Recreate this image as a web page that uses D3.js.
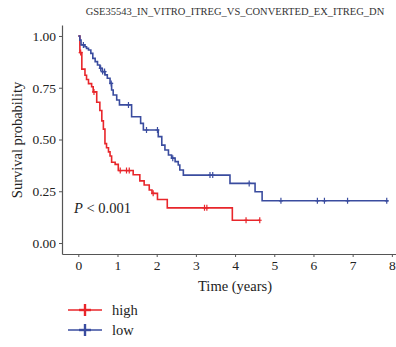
<!DOCTYPE html>
<html>
<head>
<meta charset="utf-8">
<script src="https://cdn.jsdelivr.net/npm/d3@7"></script>
<style>
  body { margin: 0; background: #fff; }
  svg text { font-family: "Liberation Serif", "DejaVu Serif", serif; }
</style>
</head>
<body>
<div id="chart"></div>
<script>
var TITLE = "GSE35543_IN_VITRO_ITREG_VS_CONVERTED_EX_ITREG_DN";
var xTicks = [0, 1, 2, 3, 4, 5, 6, 7, 8];
var yTicks = [0, 0.25, 0.5, 0.75, 1];

// high group: step times and survival after each drop
var highTime = [0, 0.04, 0.09, 0.17, 0.21, 0.26, 0.34, 0.38, 0.47, 0.55, 0.60, 0.64, 0.68, 0.72, 0.77, 0.81, 0.85, 0.94, 1.02, 1.40, 1.57, 1.68, 1.81, 1.88, 2.02, 2.27, 3.93, 4.64];
var highSurv = [1.0, 0.92, 0.84, 0.81, 0.79, 0.77, 0.755, 0.73, 0.68, 0.64, 0.59, 0.55, 0.48, 0.46, 0.44, 0.42, 0.39, 0.38, 0.35, 0.33, 0.30, 0.28, 0.256, 0.24, 0.21, 0.17, 0.11, 0.11];
var highCensor = [0.06, 0.40, 1.07, 1.23, 1.30, 1.91, 3.22, 3.28, 4.28, 4.63];

// low group
var lowTime = [0, 0.04, 0.07, 0.17, 0.21, 0.26, 0.32, 0.37, 0.43, 0.49, 0.55, 0.61, 0.68, 0.74, 0.81, 0.85, 0.89, 0.98, 1.05, 1.36, 1.59, 1.66, 2.04, 2.13, 2.21, 2.30, 2.38, 2.47, 2.55, 2.59, 2.68, 3.87, 4.51, 4.69, 7.91];
var lowSurv = [1.0, 0.98, 0.957, 0.948, 0.94, 0.932, 0.916, 0.892, 0.876, 0.86, 0.844, 0.828, 0.812, 0.796, 0.771, 0.739, 0.715, 0.691, 0.667, 0.61, 0.578, 0.546, 0.514, 0.473, 0.449, 0.425, 0.41, 0.393, 0.377, 0.353, 0.328, 0.288, 0.248, 0.204, 0.204];
var lowCensor = [0.13, 0.57, 0.62, 0.67, 0.84, 1.28, 1.74, 2.02, 2.41, 3.36, 3.43, 4.36, 5.17, 6.10, 6.28, 6.87, 7.87];

var groups = ["high", "low"];
var colors = ["#e8262b", "#3a4c9f"];

var width = 396, height = 347;

var svg = d3.select("#chart").append("svg")
    .attr("width", width)
    .attr("height", height);

// scales span the whole panel incl. padding
var x = d3.scaleLinear().domain([-0.416, 8.106]).range([62, 396]);
var y = d3.scaleLinear().domain([-0.053, 1.053]).range([254, 25]);

svg.append("text")
    .attr("x", 235)
    .attr("y", 15)
    .attr("text-anchor", "middle")
    .style("font-size", "10.5px")
    .style("fill", "#333")
    .text(TITLE);

// axes
var xAxis = svg.append("g")
    .attr("transform", "translate(0,254)")
    .call(d3.axisBottom(x).tickValues(xTicks).tickSizeInner(3).tickSizeOuter(0).tickPadding(3));
var yAxis = svg.append("g")
    .attr("transform", "translate(62,0)")
    .call(d3.axisLeft(y).tickValues(yTicks).tickFormat(d3.format(".2f")).tickSizeInner(3).tickSizeOuter(0).tickPadding(3));

[xAxis, yAxis].forEach(function(ax) {
    ax.select(".domain").attr("stroke", "#555").attr("stroke-width", 1.2);
    ax.selectAll(".tick line").attr("stroke", "#555");
    ax.selectAll(".tick text")
        .style("font-size", "13.5px")
        .style("font-family", "Liberation Serif, serif")
        .attr("fill", "#222");
});

svg.append("text")
    .attr("x", 235)
    .attr("y", 291)
    .attr("text-anchor", "middle")
    .style("font-size", "14.5px")
    .attr("fill", "#222")
    .text("Time (years)");

svg.append("text")
    .attr("transform", "translate(22,140) rotate(-90)")
    .attr("text-anchor", "middle")
    .style("font-size", "14.5px")
    .attr("fill", "#222")
    .text("Survival probability");

// curves
var line = d3.line()
    .x(function(d) { return x(d[0]); })
    .y(function(d) { return y(d[1]); })
    .curve(d3.curveStepAfter);

function survAt(times, surv, t) {
    var s = surv[0];
    for (var i = 0; i < times.length; i++) {
        if (times[i] <= t) s = surv[i];
    }
    return s;
}

var series = [
    { time: highTime, surv: highSurv, censor: highCensor },
    { time: lowTime, surv: lowSurv, censor: lowCensor }
];

series.forEach(function(s, k) {
    var pts = d3.zip(s.time, s.surv);
    svg.append("path")
        .datum(pts)
        .attr("d", line)
        .attr("fill", "none")
        .attr("stroke", colors[k])
        .attr("stroke-width", 1.6);

    svg.selectAll(".cens" + k)
        .data(s.censor)
        .enter().append("path")
        .attr("class", "cens" + k)
        .attr("d", function(t) {
            var cx = x(t), cy = y(survAt(s.time, s.surv, t));
            return "M" + cx + "," + (cy - 3) + "V" + (cy + 3) +
                   "M" + (cx - 2) + "," + cy + "H" + (cx + 2);
        })
        .attr("stroke", colors[k])
        .attr("stroke-width", 1.2)
        .attr("fill", "none");
});

// p value
var pText = svg.append("text")
    .attr("x", 74)
    .attr("y", 213)
    .style("font-size", "14.5px")
    .attr("fill", "#222");
pText.append("tspan").style("font-style", "italic").text("P");
pText.append("tspan").text(" < 0.001");

// legend
var legend = svg.selectAll(".legend")
    .data(groups)
    .enter().append("g")
    .attr("class", "legend")
    .attr("transform", function(d, i) { return "translate(68," + (310 + i * 20) + ")"; });

legend.append("line")
    .attr("x1", 0).attr("x2", 34)
    .attr("stroke", function(d, i) { return colors[i]; })
    .attr("stroke-width", 1.6);
legend.append("line")
    .attr("x1", 17).attr("x2", 17)
    .attr("y1", -6).attr("y2", 6)
    .attr("stroke", function(d, i) { return colors[i]; })
    .attr("stroke-width", 2.4);
legend.append("line")
    .attr("x1", 11).attr("x2", 23)
    .attr("stroke", function(d, i) { return colors[i]; })
    .attr("stroke-width", 2.4);
legend.append("text")
    .attr("x", 44)
    .attr("y", 5)
    .style("font-size", "14.5px")
    .attr("fill", "#222")
    .text(function(d) { return d; });
</script>
</body>
</html>
